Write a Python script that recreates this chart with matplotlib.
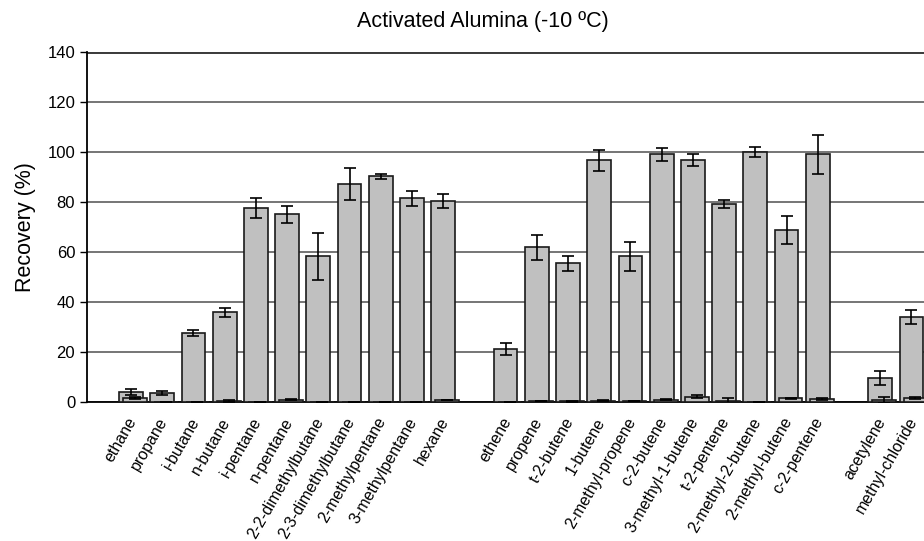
import numpy as np
import matplotlib
matplotlib.use("Agg")
import matplotlib.pyplot as plt

plt.rcParams['font.family'] = ['Liberation Sans', 'DejaVu Sans']

# alkanes
alkanes = ['ethane', 'propane', 'i-butane', 'n-butane', 'i-pentane', 'n-pentane',
           '2-2-dimethylbutane', '2-3-dimethylbutane', '2-methylpentane',
           '3-methylpentane', 'hexane']
alkanes_rec = [4.0, 3.5, 27.6, 35.9, 77.5, 75.2, 58.3, 87.4, 90.3, 81.5, 80.4]
alkanes_err = [1.2, 0.8, 1.2, 1.7, 4.0, 3.4, 9.3, 6.4, 1.1, 3.0, 2.7]
alkanes_blank = [1.5, 0.0, 0.0, 0.5, 0.0, 0.9, 0.0, 0.0, 0.0, 0.0, 0.9]
alkanes_blank_err = [0.4, 0.0, 0.0, 0.3, 0.0, 0.2, 0.0, 0.0, 0.0, 0.0, 0.1]

# alkenes
alkenes = ['ethene', 'propene', 't-2-butene', '1-butene', '2-methyl-propene',
           'c-2-butene', '3-methyl-1-butene', 't-2-pentene', '2-methyl-2-butene',
           '2-methyl-butene', 'c-2-pentene']
alkenes_rec = [21.2, 61.9, 55.5, 96.7, 58.4, 99.1, 96.7, 79.2, 100.1, 68.8, 99.1]
alkenes_err = [2.4, 4.9, 2.9, 4.2, 5.8, 2.6, 2.4, 1.5, 2.1, 5.5, 7.9]
alkenes_blank = [0.0, 0.4, 0.3, 0.6, 0.4, 1.0, 2.2, 0.5, 0.0, 1.5, 1.1]
alkenes_blank_err = [0.0, 0.1, 0.1, 0.3, 0.1, 0.1, 0.7, 1.1, 0.0, 0.1, 0.4]

# others
others = ['acetylene', 'methyl-chloride']
others_rec = [9.7, 34.0]
others_err = [2.8, 2.9]
others_blank = [1.0, 1.6]
others_blank_err = [1.2, 0.5]

groups = [
    (alkanes, alkanes_rec, alkanes_err, alkanes_blank, alkanes_blank_err),
    (alkenes, alkenes_rec, alkenes_err, alkenes_blank, alkenes_blank_err),
    (others, others_rec, others_err, others_blank, others_blank_err),
]

# one empty slot between groups
labels, pos, rec, err, blank, blank_err = [], [], [], [], [], []
x = 0
for names, r, e, b, be in groups:
    for i in range(len(names)):
        labels.append(names[i])
        pos.append(x)
        rec.append(r[i])
        err.append(e[i])
        blank.append(b[i])
        blank_err.append(be[i])
        x += 1
    x += 1
pos = np.array(pos, dtype=float)

fig = plt.figure(figsize=(9.24, 5.41), dpi=100)
ax = fig.add_axes([87 / 924, 139 / 541, 837 / 924, 350 / 541])

w = 0.76
d = 0.064
ekw = dict(ecolor='black', elinewidth=1.2, capsize=4, capthick=1.2)
ax.bar(pos - d, rec, width=w, color='#c0c0c0', edgecolor='#1a1a1a',
       linewidth=1.2, yerr=err, error_kw=ekw, zorder=3)
ax.bar(pos + d, blank, width=w, color='#c0c0c0', edgecolor='#1a1a1a',
       linewidth=1.2, yerr=blank_err, error_kw=ekw, zorder=4)

ax.set_ylim(0, 140)
ax.set_yticks(range(0, 141, 20))
ax.set_xlim(-1.474, 25.34)
ax.grid(axis='y', color='#505050', linewidth=1.1, zorder=0)
ax.axhline(140, color='black', linewidth=1.8, zorder=1)

ax.set_xticks(pos)
ax.set_xticklabels(labels, rotation=60, ha='right', va='center',
                   rotation_mode='anchor', fontsize=11.5)
ax.tick_params(axis='x', length=0, pad=12)
ax.tick_params(axis='y', length=5, width=1, labelsize=12, direction='out')

for s in ['top', 'right']:
    ax.spines[s].set_visible(False)
ax.spines['left'].set_linewidth(1.3)
ax.spines['bottom'].set_linewidth(1.3)

ax.set_ylabel('Recovery (%)', fontsize=15.5, labelpad=8)
fig.text(483 / 924, 1 - 22 / 541, 'Activated Alumina (-10 ºC)',
         ha='center', va='center', fontsize=15.5)

fig.savefig('out.png', dpi=100)
